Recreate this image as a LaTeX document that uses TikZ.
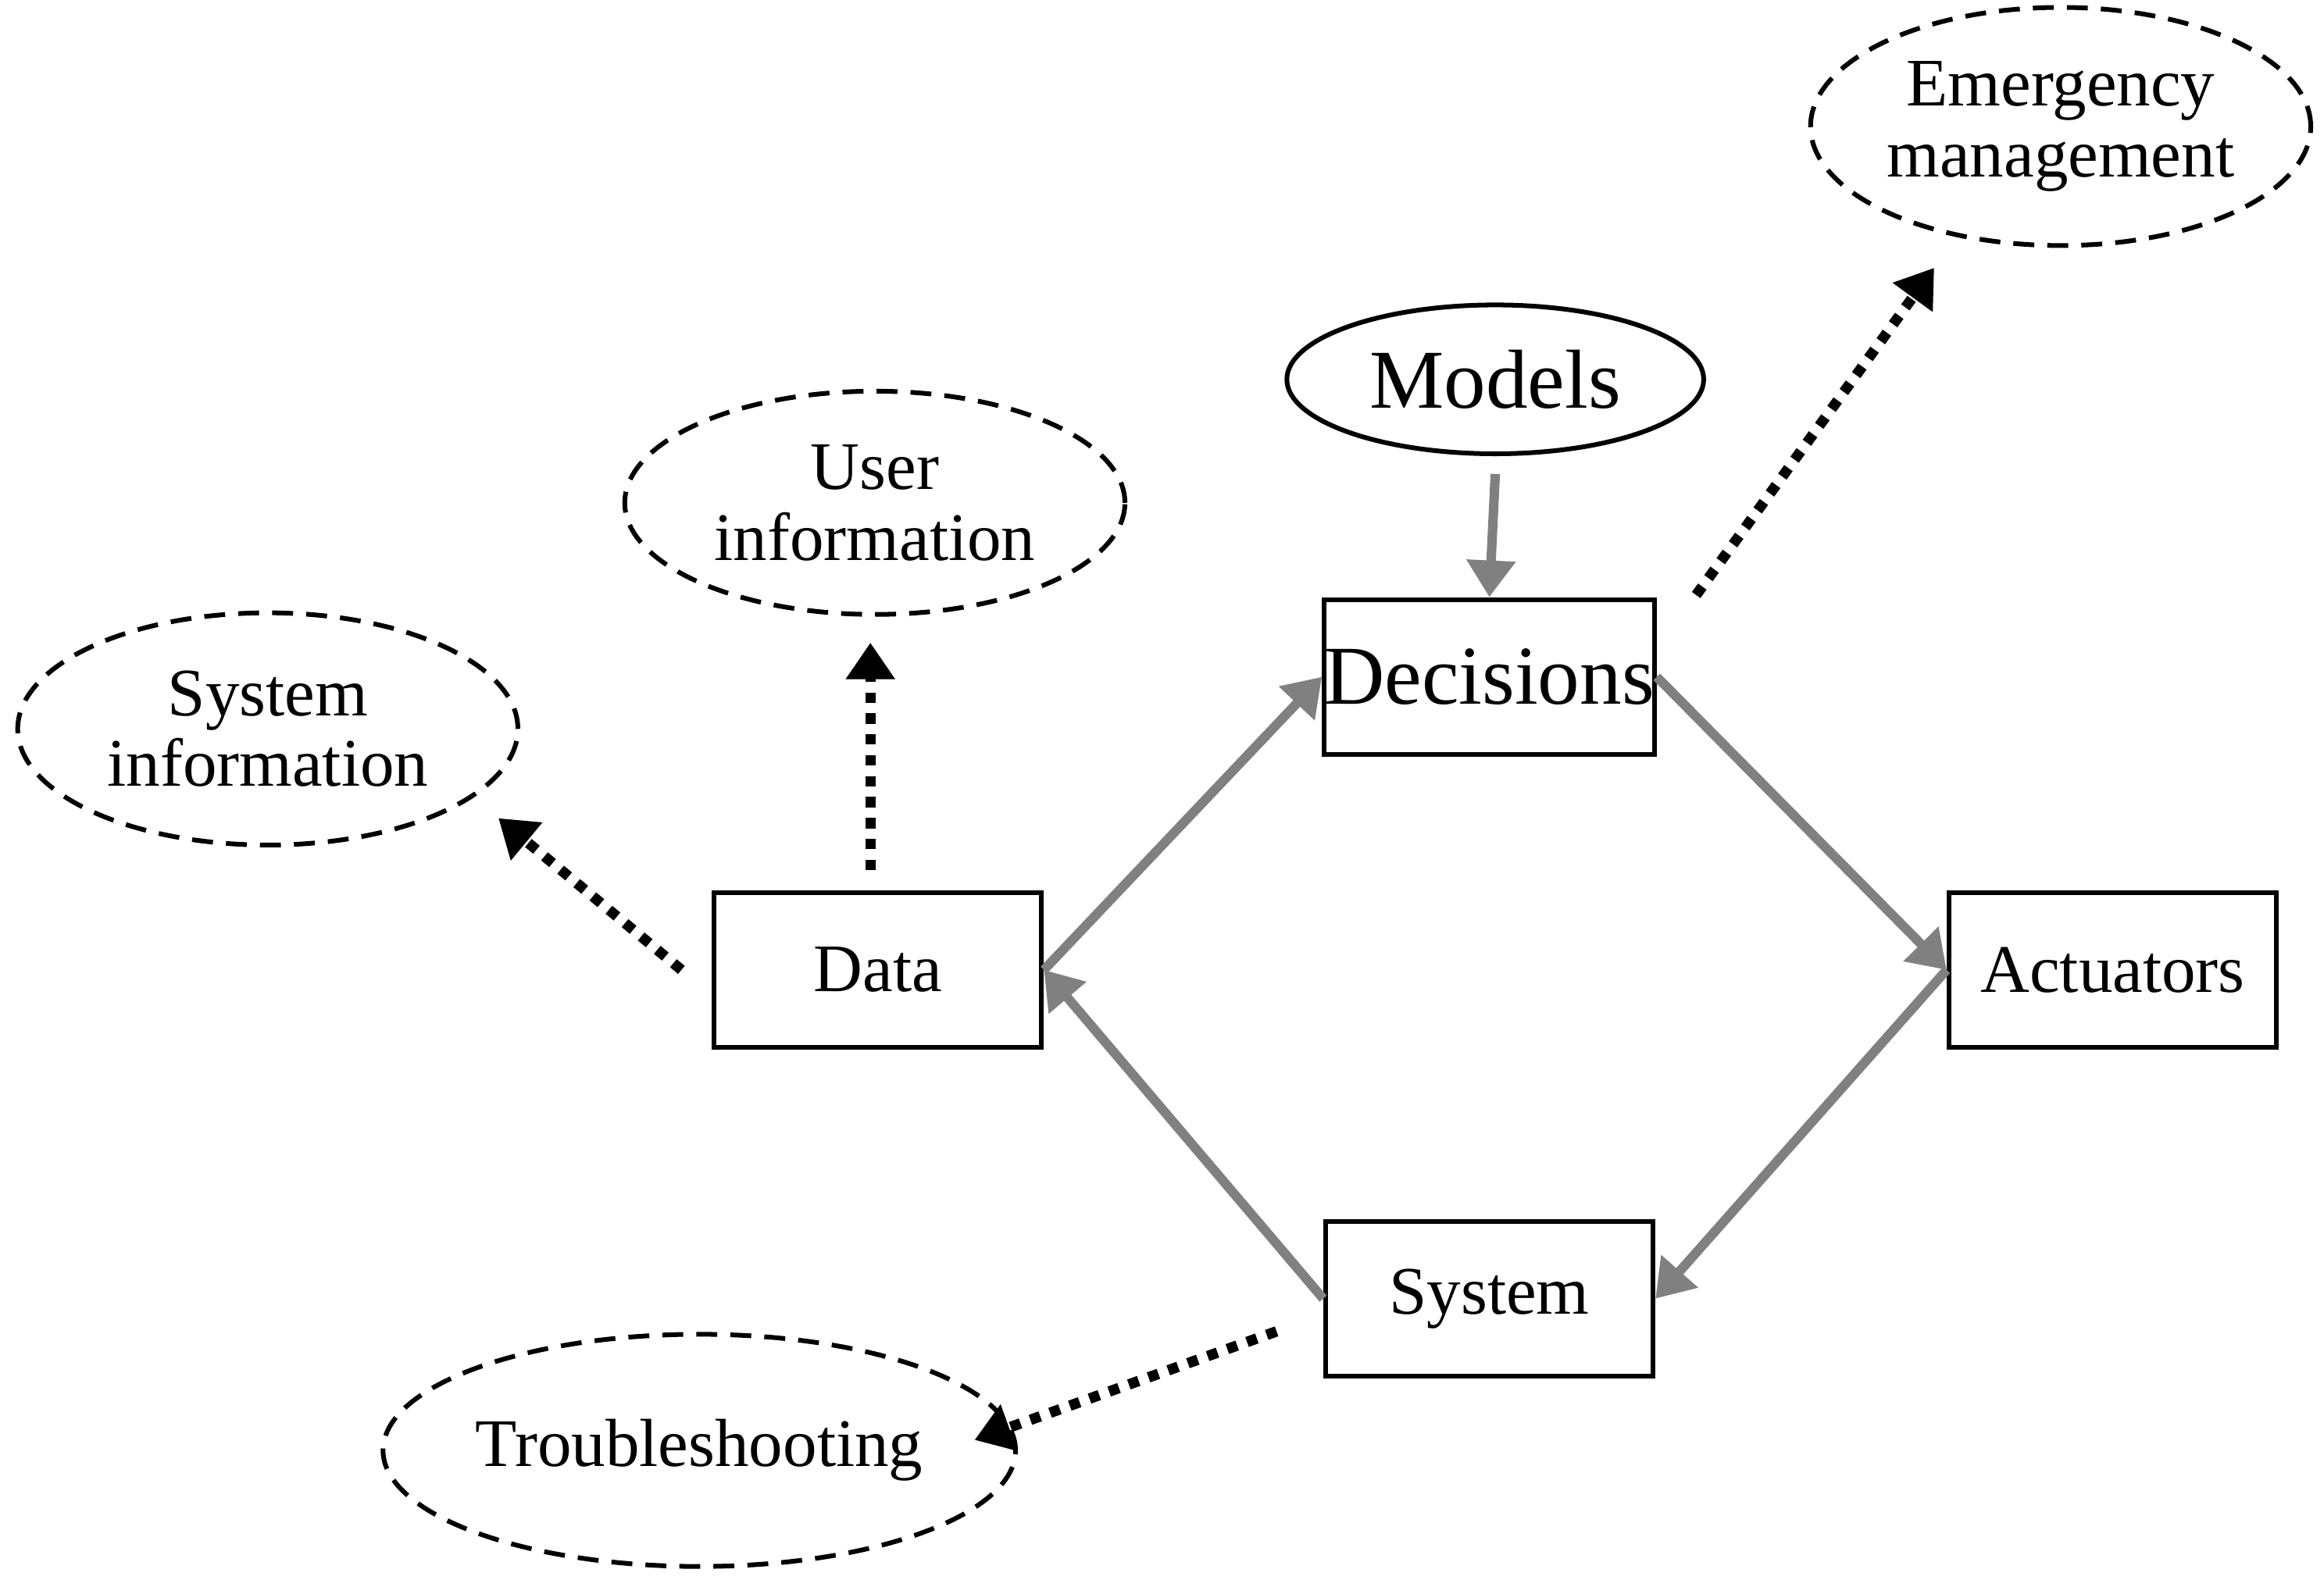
\documentclass[tikz,border=0pt]{standalone}
\usepackage{fontspec}
\setmainfont{Liberation Serif}
\usetikzlibrary{shapes.geometric,arrows.meta}
\begin{document}
\begin{tikzpicture}[x=0.01cm,y=-0.01cm,
  box/.style={draw,line width=0.9pt,minimum width=2.2cm,minimum height=1.04cm,inner sep=0pt,font=\fontsize{13}{15}\selectfont},
  dell/.style={draw,ellipse,dashed,dash pattern=on 4pt off 2.5pt,line width=0.9pt,inner sep=0pt,font=\fontsize{13}{13.5}\selectfont,align=center},
  garr/.style={draw=gray,line width=1.8pt,-{Triangle[length=7pt,width=9pt]}},
  darr/.style={line width=2pt,dash pattern=on 2pt off 2pt,-{Triangle[length=7pt,width=9pt]}}]
\useasboundingbox (0,0) rectangle (1562,1062);
\node[box,font=\fontsize{16}{18}\selectfont] (dec) at (1001,455) {Decisions};
\node[box] (data) at (590,652) {Data};
\node[box] (act) at (1420,652) {Actuators};
\node[box] (sys) at (1001,873) {System};
\node[draw,ellipse,line width=0.9pt,minimum width=2.8cm,minimum height=1.0cm,font=\fontsize{16}{18}\selectfont] (mod) at (1005,255) {Models};
\node[dell,minimum width=3.36cm,minimum height=1.6cm] (em) at (1385,85) {Emergency\\management};
\node[dell,minimum width=3.36cm,minimum height=1.5cm] (ui) at (588,338) {User\\information};
\node[dell,minimum width=3.36cm,minimum height=1.56cm] (si) at (180,490) {System\\information};
\node[dell,minimum width=3.36cm,minimum height=1.56cm] (ts) at (470,975) {Troubleshooting};
\draw[garr] (mod.south) ++(0,12) -- (dec.north);
\draw[garr] (data.east) -- (dec.west);
\draw[garr] (dec.east) -- (act.west);
\draw[garr] (act.west) -- (sys.east);
\draw[garr] (sys.west) -- (data.east);
\coordinate (a1) at (1140,400); \coordinate (b1) at (1300,180);
\coordinate (a2) at (585,585); \coordinate (b2) at (585,432);
\coordinate (a3) at (458,652); \coordinate (b3) at (335,550);
\coordinate (a4) at (858,895); \coordinate (b4) at (655,968);
\draw[darr] (a1) -- (b1);
\draw[darr] (a2) -- (b2);
\draw[darr] (a3) -- (b3);
\draw[darr] (a4) -- (b4);
\end{tikzpicture}
\end{document}
